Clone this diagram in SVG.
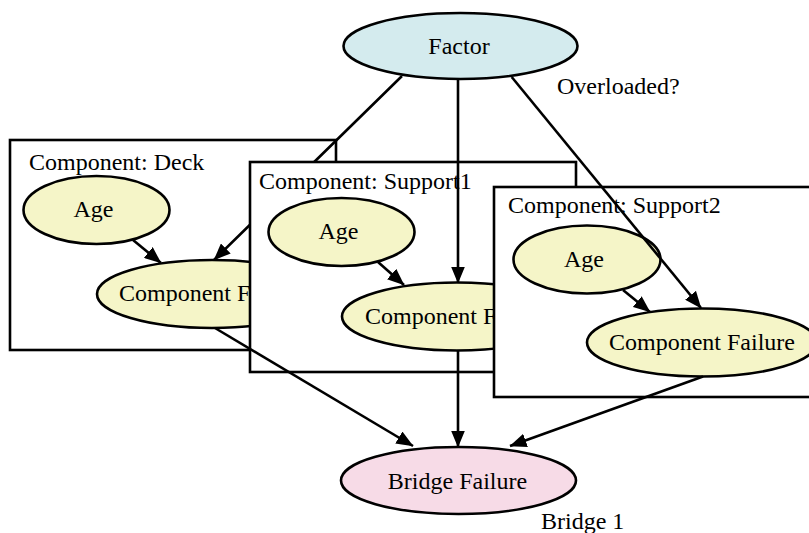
<svg xmlns="http://www.w3.org/2000/svg" width="809" height="533" viewBox="0 0 809 533">
  <style>
    text { font-family: "Liberation Serif", "Times New Roman", serif; font-size: 24px; fill: #000; }
    .mid { text-anchor: middle; }
    .cluster { fill: #ffffff; stroke: #000; stroke-width: 2.6; }
    .node ellipse { stroke: #000; stroke-width: 2.6; }
    .factor { fill: #d4ebee; }
    .comp { fill: #f5f5c8; }
    .bridge { fill: #f7dbe7; }
    .edge { fill: none; stroke: #000; stroke-width: 2.6; marker-end: url(#arrow); }
  </style>
  <defs>
    <marker id="arrow" markerUnits="userSpaceOnUse" viewBox="0 0 17 14" markerWidth="17" markerHeight="14" refX="16.5" refY="7" orient="auto">
      <path d="M0,0 L17,7 L0,14 z" fill="#000"/>
    </marker>
  </defs>

  <rect width="809" height="533" fill="#ffffff"/>

  <!-- top-level factor -->
  <g id="factor" class="node">
    <ellipse class="factor" cx="460.5" cy="46" rx="117" ry="33"/>
    <text class="mid" x="459" y="54">Factor</text>
  </g>
  <text x="557" y="94">Overloaded?</text>

  <!-- cluster: deck -->
  <g id="cluster-deck">
    <rect class="cluster" x="10" y="140" width="326" height="210"/>
    <text x="29" y="170">Component: Deck</text>
  </g>
  <g id="deck-age" class="node">
    <ellipse class="comp" cx="96.5" cy="210" rx="73" ry="34"/>
    <text class="mid" x="93.5" y="217">Age</text>
  </g>
  <g id="deck-failure" class="node">
    <ellipse class="comp" cx="212" cy="294" rx="115" ry="34"/>
    <text class="mid" x="212" y="301">Component Failure</text>
  </g>

  <!-- cluster: support1 -->
  <g id="cluster-support1">
    <rect class="cluster" x="250" y="162" width="326" height="210"/>
    <text x="259" y="189">Component: Support1</text>
  </g>
  <g id="support1-age" class="node">
    <ellipse class="comp" cx="341.5" cy="232" rx="73" ry="34"/>
    <text class="mid" x="338.5" y="239">Age</text>
  </g>
  <g id="support1-failure" class="node">
    <ellipse class="comp" cx="457" cy="316.5" rx="115" ry="34"/>
    <text class="mid" x="458" y="323.5">Component Failure</text>
  </g>

  <!-- cluster: support2 -->
  <g id="cluster-support2">
    <rect class="cluster" x="494" y="187" width="330" height="210"/>
    <text x="508" y="213">Component: Support2</text>
  </g>
  <g id="support2-age" class="node">
    <ellipse class="comp" cx="587" cy="259.5" rx="73.5" ry="34"/>
    <text class="mid" x="584" y="266.5">Age</text>
  </g>
  <g id="support2-failure" class="node">
    <ellipse class="comp" cx="702" cy="342.5" rx="115" ry="34"/>
    <text class="mid" x="702" y="349.5">Component Failure</text>
  </g>

  <!-- bridge -->
  <g id="bridge-failure" class="node">
    <ellipse class="bridge" cx="458.5" cy="480.5" rx="117.5" ry="33.5"/>
    <text class="mid" x="457.5" y="488.5">Bridge Failure</text>
  </g>
  <text x="541" y="529">Bridge 1</text>

  <!-- connectors -->
  <g id="edges">
    <!-- factor to deck failure; hidden where it runs behind the support1 cluster -->
    <path class="edge" d="M402,76 L314.2,162 M250,224.8 L214,260"/>
    <path class="edge" d="M458,79 L458,283"/>
    <path class="edge" d="M511.7,77 L701,308"/>
    <path class="edge" d="M133,240 L161,263"/>
    <path class="edge" d="M378,262 L404,285"/>
    <path class="edge" d="M623,290 L650,312"/>
    <path class="edge" d="M215,328 L413,446"/>
    <path class="edge" d="M458,350.5 L458,447"/>
    <path class="edge" d="M703,376.5 L510,446"/>
  </g>
</svg>
